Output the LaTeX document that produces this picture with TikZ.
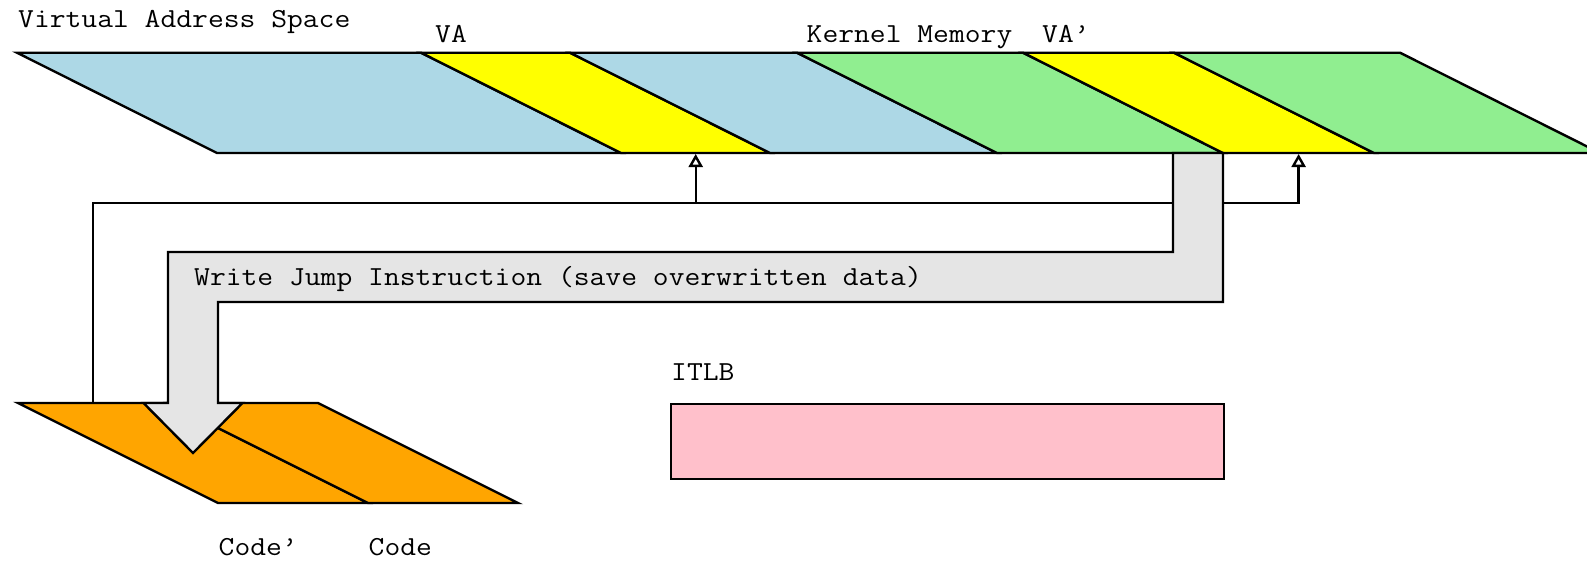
\documentclass[tikz,border=0pt]{standalone}
\usepackage{fontspec}
\newfontfamily\lblfont[FakeStretch=1.117]{Latin Modern Mono}
\usetikzlibrary{arrows.meta}
\definecolor{cBlue}{HTML}{ADD8E6}
\definecolor{cYellow}{HTML}{FFFF00}
\definecolor{cGreen}{HTML}{90EE90}
\definecolor{cOrange}{HTML}{FFA500}
\definecolor{cPink}{HTML}{FFC0CB}
\definecolor{cGrey}{HTML}{E5E5E5}
\tikzset{
  band/.style={draw=black, line width=2.4pt, line join=miter},
  lbl/.style={inner sep=0pt, anchor=base west, font=\lblfont\fontsize{27.5}{30}\selectfont},
  conn/.style={draw=black, line width=2.4pt},
  tipped/.style={-{Triangle[length=13pt,width=14pt,fill=white]}},
  bigarrow/.style={draw=black, fill=cGrey, line width=2.4pt, line join=miter},
  tlb/.style={draw=black, fill=cPink, line width=2.4pt, rectangle, inner sep=0pt, anchor=north west, minimum width=553pt, minimum height=75pt}
}
\newcommand\vband[3]{\path[band,fill=#3] (#1,52.7) -- (#2,52.7) -- (#2+200,153) -- (#1+200,153) -- cycle;}
\newcommand\oband[3]{\path[band,fill=#3] (#1,403) -- (#2,403) -- (#2+200,503) -- (#1+200,503) -- cycle;}
\begin{document}
\begin{tikzpicture}[x=1pt,y=-1pt]
\useasboundingbox (0,0) rectangle (1587,560);
\clip (0,0) rectangle (1587,560);
% virtual address space strip
\vband{17}{421}{cBlue}
\vband{421}{570}{cYellow}
\vband{570}{797}{cBlue}
\vband{797}{1023}{cGreen}
\vband{1023}{1174}{cYellow}
\vband{1174}{1400}{cGreen}
% code region
\oband{18}{168}{cOrange}
\oband{168}{318}{cOrange}
% ITLB
\node[tlb] (itlb) at (670,403) {};
% connector points
\coordinate (codeTop) at (93,403);
\coordinate (bus) at (93,202.7);
\coordinate (vaIn) at (695.7,154);
\coordinate (vapIn) at (1298.6,154);
\draw[conn,tipped] (codeTop) -- (bus) -| (vapIn);
\draw[conn,tipped] (bus) -| (vaIn);
% big grey arrow
\path[bigarrow] (1173,153) -- (1173,252) -- (168,252) -- (168,403) -- (143.5,403)
  -- (193,453) -- (242.5,403) -- (218,403) -- (218,302) -- (1223,302) -- (1223,153) -- cycle;
% labels
\node[lbl] (vas) at (18,27.5) {Virtual Address Space};
\node[lbl] (va) at (435,42.5) {VA};
\node[lbl] (km) at (806.5,42.5) {Kernel Memory};
\node[lbl] (vap) at (1042,42.5) {VA’};
\node[lbl] (wji) at (194,285.5) {Write Jump Instruction (save overwritten data)};
\node[lbl] (itlbl) at (671,380.5) {ITLB};
\node[lbl] (codep) at (218.5,555.5) {Code’};
\node[lbl] (code) at (368.5,555.5) {Code};
\end{tikzpicture}
\end{document}
